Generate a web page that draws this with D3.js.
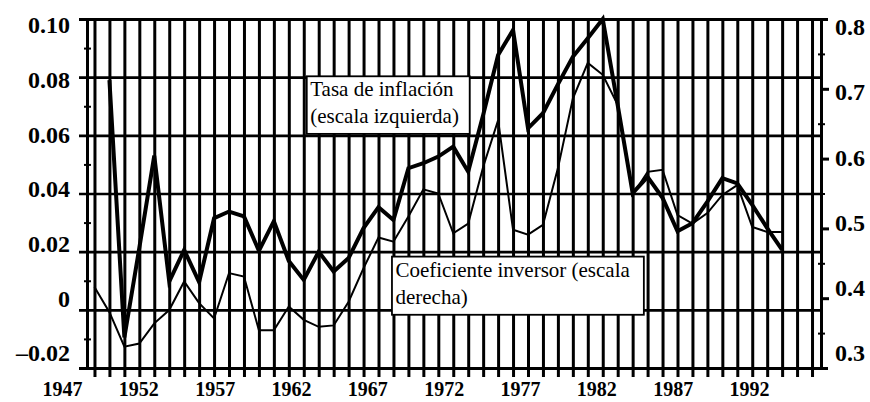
<!DOCTYPE html>
<meta charset="utf-8">
<style>
body { margin: 0; background: #fff; }
svg { display: block; background: #fff; }
.lbl { font-family: "Liberation Serif", "DejaVu Serif", serif; font-weight: bold; fill: #000; }
.note { font-family: "Liberation Serif", "DejaVu Serif", serif; font-size: 21px; fill: #000; }
</style>
<svg width="870" height="402"></svg>
<script src="https://d3js.org/d3.v7.min.js"></script>
<script>
// years shown as data points
var years = d3.range(1949, 1996);

// tasa de inflacion (escala izquierda), no value for 1949
var inflation = [null, 0.079, -0.0095, 0.0213, 0.053, 0.0097, 0.0206, 0.0095, 0.0315, 0.0338,
                 0.0321, 0.0203, 0.0305, 0.0168, 0.0103, 0.020, 0.0132, 0.0178, 0.0281, 0.0353,
                 0.0309, 0.0487, 0.0504, 0.0527, 0.0561, 0.0475, 0.067, 0.0876, 0.0962, 0.0624,
                 0.0676, 0.0775, 0.087, 0.0934, 0.100, 0.0704, 0.0401, 0.0457, 0.0385, 0.027,
                 0.0298, 0.0372, 0.0453, 0.0435, 0.0361, 0.0281, 0.0206];

// coeficiente inversor (escala derecha)
var investment = [0.416, 0.380, 0.3305, 0.335, 0.364, 0.383, 0.424, 0.393, 0.371, 0.436,
                  0.431, 0.354, 0.354, 0.388, 0.369, 0.359, 0.361, 0.395, 0.443, 0.487,
                  0.481, 0.517, 0.556, 0.550, 0.493, 0.507, 0.588, 0.655, 0.498, 0.491,
                  0.505, 0.586, 0.686, 0.737, 0.720, 0.677, 0.548, 0.581, 0.584, 0.519,
                  0.507, 0.522, 0.548, 0.562, 0.502, 0.495, 0.495];

var leftTicks  = [-0.02, 0, 0.02, 0.04, 0.06, 0.08, 0.10];
var leftLabels = ["\u20130.02", "0", "0.02", "0.04", "0.06", "0.08", "0.10"];
var leftMinor  = [-0.01, 0.01, 0.03, 0.05, 0.07, 0.09];

var rightTicks  = [0.3, 0.4, 0.5, 0.6, 0.7, 0.8];
var rightLabels = ["0.3", "0.4", "0.5", "0.6", "0.7", "0.8"];
var rightMinor  = [0.35, 0.45, 0.55, 0.65, 0.75];

var yearTicks  = [1947, 1952, 1957, 1962, 1967, 1972, 1977, 1982, 1987, 1992];
var gridYears  = d3.range(1949, 1998);

var svg = d3.select("svg");

var x   = d3.scaleLinear().domain([1948.5, 1997.6]).range([87, 821]);
var yL  = d3.scaleLinear().domain([-0.02, 0.10]).range([368, 19]);
var yR  = d3.scaleLinear().domain([0.3, 0.8]).range([368, 19]);
// the printed labels sit a little off the ticks in the scan
var yLabL = d3.scaleLinear().domain([-0.02, 0.10]).range([353, 25]);
var yLabR = d3.scaleLinear().domain([0.3, 0.8]).range([353, 27]);
var xLab  = d3.scaleLinear().domain([1947, 1992]).range([62, 749]);

function blacken(g, w) {
    g.select(".domain").attr("stroke", "#000").attr("stroke-width", w);
    g.selectAll(".tick line").attr("stroke", "#000").attr("stroke-width", w);
}

// vertical grid, one line a year, sticking out below the frame
svg.append("g")
    .attr("transform", "translate(0,377)")
    .call(d3.axisBottom(x).tickValues(gridYears).tickSize(-(377 - 19)).tickFormat(""))
    .call(function(g) { g.select(".domain").remove(); blacken(g, 3); });

// horizontal grid on the left scale
svg.append("g")
    .attr("transform", "translate(79,0)")
    .call(d3.axisLeft(yL).tickValues([0, 0.02, 0.04, 0.06, 0.08]).tickSize(-742).tickFormat(""))
    .call(function(g) { g.select(".domain").remove(); blacken(g, 2.6); });

// top and bottom of the frame
svg.append("g")
    .attr("transform", "translate(79,0)")
    .call(d3.axisLeft(yL).tickValues([-0.02, 0.10]).tickSize(-749).tickFormat(""))
    .call(function(g) { g.select(".domain").remove(); blacken(g, 2.8); });

// left axis with small ticks
svg.append("g")
    .attr("transform", "translate(87,0)")
    .call(d3.axisLeft(yL).tickValues(leftMinor).tickSize(3).tickSizeOuter(0).tickFormat(""))
    .call(function(g) {
        blacken(g, 3);
        g.selectAll(".tick line").attr("x2", -3).attr("x1", 4).attr("stroke-width", 2);
    });

// right axis
svg.append("g")
    .attr("transform", "translate(821,0)")
    .call(d3.axisRight(yR).tickValues([0.4, 0.5, 0.6, 0.7]).tickSize(8).tickSizeOuter(0).tickFormat(""))
    .call(function(g) { blacken(g, 3); });
svg.append("g")
    .attr("transform", "translate(821,0)")
    .call(d3.axisRight(yR).tickValues(rightMinor).tickSize(4).tickFormat(""))
    .call(function(g) {
        g.select(".domain").remove();
        blacken(g, 2);
        g.selectAll(".tick line").attr("x1", -3);
    });

// tick labels
svg.append("g")
    .attr("class", "lbl")
    .attr("transform", "translate(79,0)")
    .call(d3.axisLeft(yLabL).tickValues(leftTicks).tickSize(0).tickPadding(9)
        .tickFormat(function(d, i) { return leftLabels[i]; }))
    .call(function(g) {
        g.select(".domain").remove();
        g.attr("font-family", null).attr("font-size", 24);
        g.selectAll("text").attr("fill", "#000");
    });

svg.append("g")
    .attr("class", "lbl")
    .attr("transform", "translate(828,0)")
    .call(d3.axisRight(yLabR).tickValues(rightTicks).tickSize(0).tickPadding(7)
        .tickFormat(function(d, i) { return rightLabels[i]; }))
    .call(function(g) {
        g.select(".domain").remove();
        g.attr("font-family", null).attr("font-size", 24);
        g.selectAll("text").attr("fill", "#000");
    });

svg.append("g")
    .attr("class", "lbl")
    .attr("transform", "translate(0,368)")
    .call(d3.axisBottom(xLab).tickValues(yearTicks).tickSize(0).tickPadding(14)
        .tickFormat(d3.format("d")))
    .call(function(g) {
        g.select(".domain").remove();
        g.attr("font-family", null).attr("font-size", 20);
        g.selectAll("text").attr("fill", "#000");
    });

// annotation boxes
function note(x0, x1, v0, v1, lines) {
    var g = svg.append("g");
    g.append("rect")
        .attr("x", x(x0)).attr("y", yL(v0))
        .attr("width", x(x1) - x(x0)).attr("height", yL(v1) - yL(v0))
        .attr("fill", "#fff").attr("stroke", "#000").attr("stroke-width", 1.8);
    g.selectAll("text").data(lines).enter().append("text")
        .attr("class", "note")
        .attr("x", x(x0) + 3.5)
        .attr("y", function(d, i) { return yL(v0) + 20 + i * 27; })
        .text(function(d) { return d; });
}
note(1963.2, 1974.1, 0.0803, 0.0605, ["Tasa de inflación", "(escala izquierda)"]);
note(1968.9, 1985.75, 0.0183, -0.0017, ["Coeficiente inversor (escala", "derecha)"]);

// series
var lineL = d3.line()
    .defined(function(d) { return d.v != null; })
    .x(function(d) { return x(d.year); })
    .y(function(d) { return yL(d.v); });
var lineR = d3.line()
    .x(function(d) { return x(d.year); })
    .y(function(d) { return yR(d.v); });

svg.append("path")
    .datum(years.map(function(y, i) { return {year: y, v: investment[i]}; }))
    .attr("fill", "none").attr("stroke", "#000").attr("stroke-width", 2)
    .attr("stroke-linejoin", "miter")
    .attr("d", lineR);

svg.append("path")
    .datum(years.map(function(y, i) { return {year: y, v: inflation[i]}; }))
    .attr("fill", "none").attr("stroke", "#000").attr("stroke-width", 4)
    .attr("stroke-linejoin", "miter")
    .attr("d", lineL);
</script>
